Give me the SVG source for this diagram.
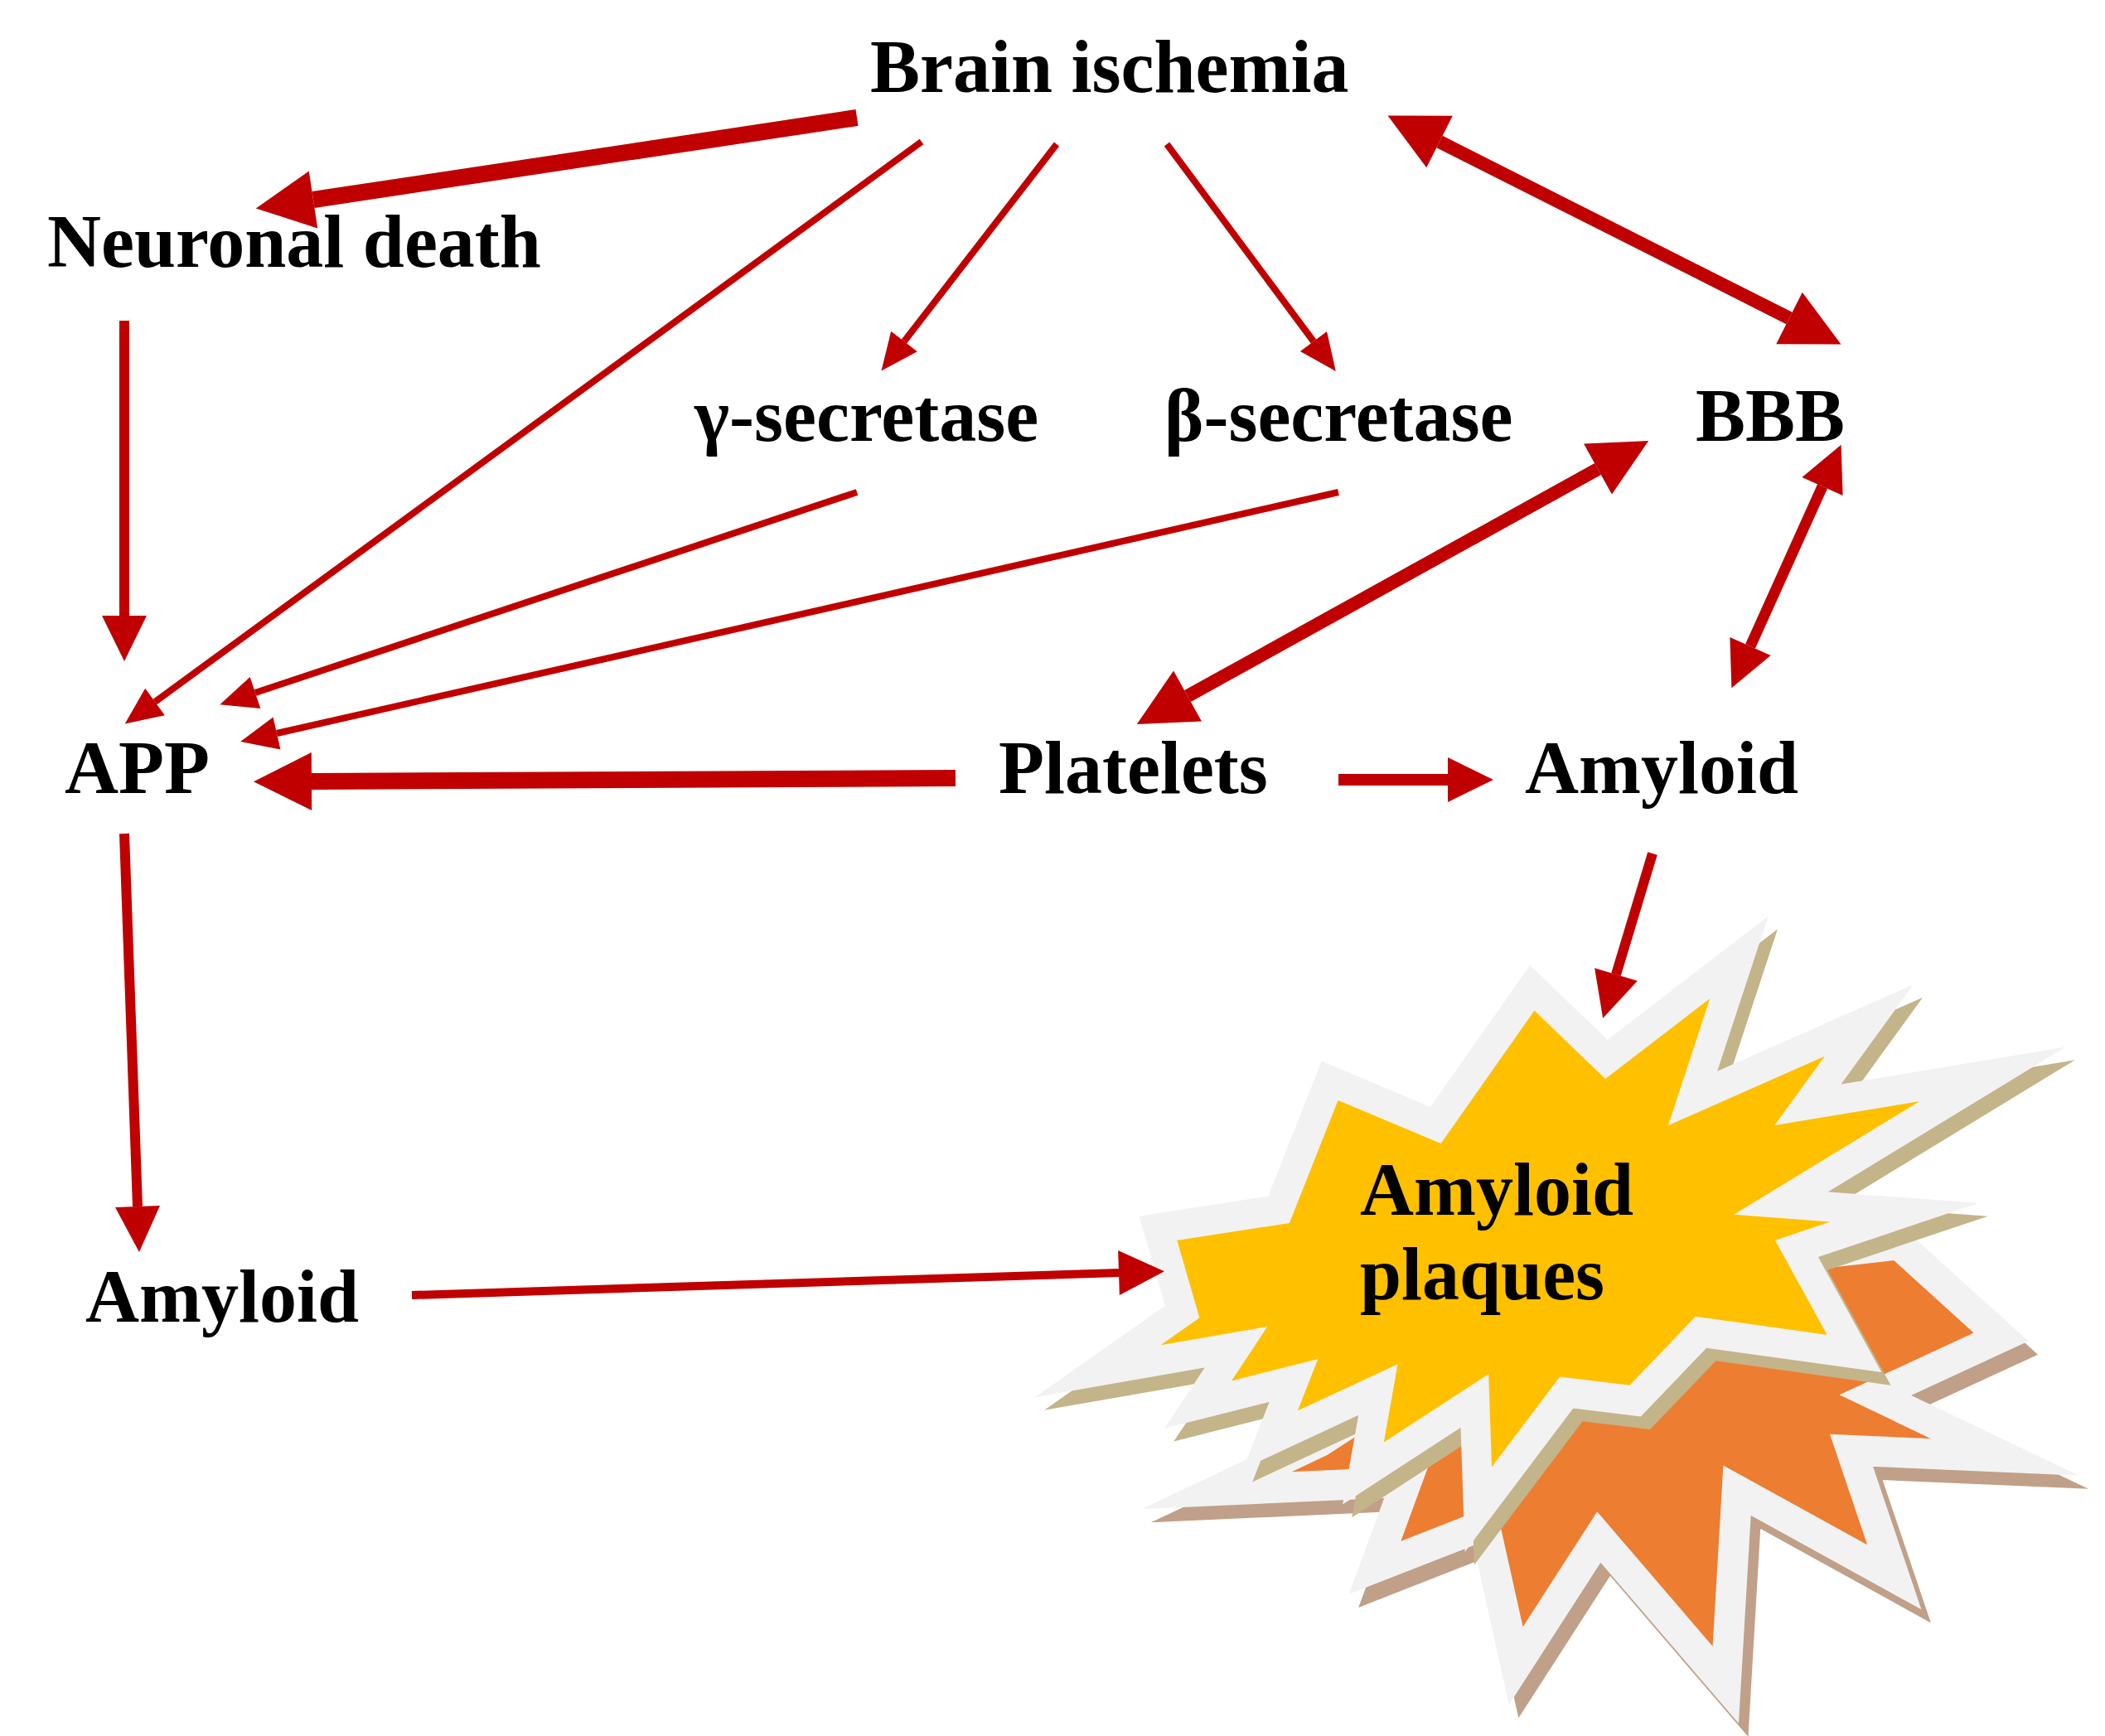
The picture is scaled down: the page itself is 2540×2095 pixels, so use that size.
<svg xmlns="http://www.w3.org/2000/svg" width="2540" height="2095" viewBox="0 0 2540 2095">
<style>
.t{font-family:"Liberation Serif","Times New Roman",serif;font-weight:bold;font-size:90px;fill:#000}
.c{stroke:#c00000;fill:none;stroke-linecap:butt}
.bw{stroke:#f2f2f2;stroke-width:32;stroke-linejoin:miter;stroke-miterlimit:20}
</style>
<defs>
<marker id="hs" markerUnits="userSpaceOnUse" markerWidth="60" markerHeight="60" refX="0" refY="0" orient="auto-start-reverse" overflow="visible"><path d="M0,-20 L45,0 L0,20 Z" fill="#c00000"/></marker>
<marker id="hm" markerUnits="userSpaceOnUse" markerWidth="70" markerHeight="70" refX="0" refY="0" orient="auto-start-reverse" overflow="visible"><path d="M0,-27 L55,0 L0,27 Z" fill="#c00000"/></marker>
<marker id="hl" markerUnits="userSpaceOnUse" markerWidth="90" markerHeight="90" refX="0" refY="0" orient="auto-start-reverse" overflow="visible"><path d="M0,-35 L70,0 L0,35 Z" fill="#c00000"/></marker>
<polygon id="orng" points="2247,1533 2354,1630 2222,1691 2358,1756 2197,1749 2242,1882 2077,1791 2065,1995 1932,1840 1845,1975 1812,1827 1697,1872 1730,1782 1531,1791 1639,1740 1829,1617 2077,1552"/>
<polygon id="ylw" points="1447,1482 1577,1462 1632,1323 1746,1371 1850,1223 1930,1300 2073,1190 2023,1342 2213,1258 2147,1349 2346,1316 2118,1455 2251,1465 2135,1504 2197,1617 2032,1594 1961,1668 1887,1659 1792,1785 1788,1668 1668,1746 1684,1656 1568,1710 1593,1646 1490,1672 1531,1610 1382,1636 1473,1572"/>
</defs>
<rect width="2540" height="2095" fill="#fff"/>
<g id="plaques">
<g transform="translate(1950,1740) scale(1.15) translate(-1950,-1740)">
<use href="#orng" transform="translate(10,14)" fill="#c0a088" stroke="#c0a088" stroke-width="32" stroke-linejoin="miter" stroke-miterlimit="20"/>
<use href="#orng" class="bw" fill="#ed7d31"/>
</g>
<g transform="translate(1860,1480) scale(1.12) translate(-1860,-1480)">
<use href="#ylw" transform="translate(10,14)" fill="#c4b48a" stroke="#c4b48a" stroke-width="32" stroke-linejoin="miter" stroke-miterlimit="20"/>
<use href="#ylw" class="bw" fill="#ffc000"/>
</g>
<text class="t" x="1641" y="1466">Amyloid</text>
<text class="t" x="1641" y="1568">plaques</text>
</g>
<g id="brain"><text class="t" x="1050" y="111">Brain ischemia</text></g>
<g id="neuronal"><text class="t" x="57" y="322">Neuronal death</text></g>
<g id="gamma"><text class="t" x="838" y="532">γ-secretase</text></g>
<g id="beta"><text class="t" x="1405" y="532">β-secretase</text></g>
<g id="bbb"><text class="t" x="2046" y="532">BBB</text></g>
<g id="app"><text class="t" x="78" y="957">APP</text></g>
<g id="platelets"><text class="t" x="1205" y="957">Platelets</text></g>
<g id="amyloid-r"><text class="t" x="1840" y="957">Amyloid</text></g>
<g id="amyloid-l"><text class="t" x="103" y="1595">Amyloid</text></g>
<g id="connectors">
<line class="c" x1="1034" y1="142" x2="378" y2="241" stroke-width="20" marker-end="url(#hl)"/>
<line class="c" x1="1112" y1="171" x2="187" y2="847" stroke-width="8" marker-end="url(#hs)"/>
<line class="c" x1="1275" y1="174" x2="1091" y2="412" stroke-width="8" marker-end="url(#hs)"/>
<line class="c" x1="1408" y1="174" x2="1585" y2="412" stroke-width="8" marker-end="url(#hs)"/>
<line class="c" x1="1737" y1="171" x2="2159" y2="384" stroke-width="16" marker-start="url(#hl)" marker-end="url(#hl)"/>
<line class="c" x1="150" y1="387" x2="150" y2="743" stroke-width="12" marker-end="url(#hm)"/>
<line class="c" x1="1034" y1="594" x2="308" y2="836" stroke-width="8" marker-end="url(#hs)"/>
<line class="c" x1="1615" y1="594" x2="334" y2="885" stroke-width="8" marker-end="url(#hs)"/>
<line class="c" x1="1928" y1="566" x2="1433" y2="840" stroke-width="16" marker-start="url(#hl)" marker-end="url(#hl)"/>
<line class="c" x1="2199" y1="587" x2="2112" y2="780" stroke-width="13" marker-start="url(#hm)" marker-end="url(#hm)"/>
<line class="c" x1="1153" y1="939" x2="376" y2="943" stroke-width="20" marker-end="url(#hl)"/>
<line class="c" x1="1615" y1="941" x2="1747" y2="941" stroke-width="14" marker-end="url(#hm)"/>
<line class="c" x1="1994" y1="1030" x2="1950" y2="1176" stroke-width="12" marker-end="url(#hm)"/>
<line class="c" x1="150" y1="1006" x2="166" y2="1456" stroke-width="12" marker-end="url(#hm)"/>
<line class="c" x1="497" y1="1563" x2="1350" y2="1536" stroke-width="10" marker-end="url(#hm)"/>
</g>
</svg>
